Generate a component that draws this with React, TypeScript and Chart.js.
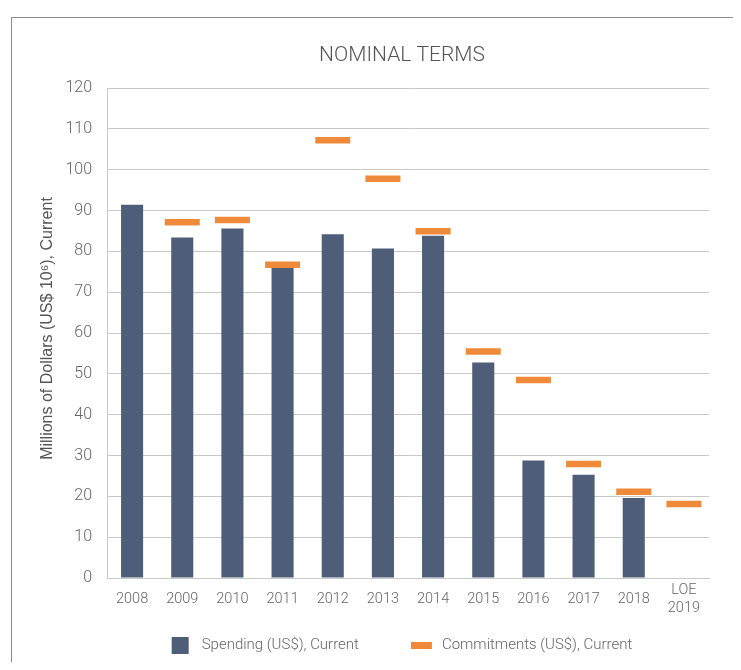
import React, { useEffect, useRef } from 'react';
import { Chart, registerables } from 'chart.js';

Chart.register(...registerables);

// Fiscal years on the category axis (last one is the level-of-effort estimate)
const categories: (string | string[])[] = [
  '2008', '2009', '2010', '2011', '2012', '2013', '2014',
  '2015', '2016', '2017', '2018', ['LOE', '2019'],
];

// Spending, millions of current US$
const spending: (number | null)[] = [
  91.4, 83.4, 85.6, 76.0, 84.2, 80.7, 83.8, 52.8, 28.8, 25.3, 19.6, null,
];

// Commitments, millions of current US$
const commitments: (number | null)[] = [
  null, 87.1, 87.7, 76.7, 107.2, 97.8, 84.9, 55.5, 48.5, 27.9, 21.1, 18.1,
];

const yMin = 0;
const yMax = 120;
const yStep = 10;

const titleText = 'NOMINAL TERMS';
const yTitle = 'Millions of Dollars (US$ 10\u2076), Current';
const spendingLabel = 'Spending (US$), Current';
const commitmentsLabel = 'Commitments (US$), Current';

const CANVAS_W = 725;
const CANVAS_H = 654;

const BAR_COLOR = '#4f5e78';
const DASH_COLOR = '#ef8a3b';
const TEXT_COLOR = '#666666';
const TITLE_COLOR = '#555555';
const GRID_COLOR = '#c9c9c9';
const LIGHT_FONT = 'Roboto, "Noto Sans", Arial, sans-serif';
const AXIS_TITLE_FONT = '"Liberation Sans", Arial, sans-serif';

// Legend row under the axis: a square for the bars, a short thick bar for the dashes
const legendItems = [
  { text: spendingLabel, color: BAR_COLOR, w: 17, h: 17, gap: 13 },
  { text: commitmentsLabel, color: DASH_COLOR, w: 21, h: 7, gap: 10 },
];

// Heading, rotated value-axis title and legend, placed around the plot area
const annotations = {
  id: 'annotations',
  afterDraw(chart: any) {
    const { ctx, chartArea } = chart;
    const midX = (chartArea.left + chartArea.right) / 2 - 6;
    ctx.save();

    // heading
    ctx.font = `300 21px ${LIGHT_FONT}`;
    ctx.fillStyle = TITLE_COLOR;
    ctx.textAlign = 'center';
    ctx.textBaseline = 'middle';
    ctx.fillText(titleText, midX, chartArea.top - 32.5);

    // value-axis title
    ctx.save();
    ctx.translate(chartArea.left - 59, (chartArea.top + chartArea.bottom) / 2 - 4.5);
    ctx.rotate(-Math.PI / 2);
    ctx.font = `16px ${AXIS_TITLE_FONT}`;
    ctx.fillStyle = TITLE_COLOR;
    ctx.textAlign = 'center';
    ctx.fillText(yTitle, 0, 0);
    ctx.restore();

    // legend
    ctx.font = `300 15px ${LIGHT_FONT}`;
    ctx.textAlign = 'left';
    const spacing = 52;
    const widths = legendItems.map((it) => it.w + it.gap + ctx.measureText(it.text).width);
    const total = widths.reduce((a, b) => a + b, 0) + spacing * (legendItems.length - 1);
    const cy = chart.height - 16.5;
    let x = midX - total / 2;
    legendItems.forEach((it, i) => {
      ctx.fillStyle = it.color;
      ctx.fillRect(x, cy - it.h / 2, it.w, it.h);
      ctx.fillStyle = TEXT_COLOR;
      ctx.fillText(it.text, x + it.w + it.gap, cy);
      x += widths[i] + spacing;
    });
    ctx.restore();
  },
};

export default function App() {
  const canvasRef = useRef<HTMLCanvasElement | null>(null);

  useEffect(() => {
    if (!canvasRef.current) return;

    const chart = new Chart(canvasRef.current, {
      type: 'bar',
      data: {
        labels: categories,
        datasets: [
          {
            type: 'bar',
            label: spendingLabel,
            data: spending,
            backgroundColor: BAR_COLOR,
            borderWidth: 0,
            barPercentage: 0.44,
            categoryPercentage: 1,
            order: 2,
          },
          {
            type: 'line',
            label: commitmentsLabel,
            data: commitments,
            showLine: false,
            pointStyle: 'line',
            pointRadius: 17.5,
            pointHoverRadius: 17.5,
            pointBorderWidth: 6.5,
            pointHoverBorderWidth: 6.5,
            borderColor: DASH_COLOR,
            backgroundColor: DASH_COLOR,
            order: 1,
          } as any,
        ],
      },
      options: {
        responsive: false,
        maintainAspectRatio: false,
        devicePixelRatio: 1,
        animation: false,
        layout: { padding: { left: 0, right: 1, top: 80, bottom: 36 } },
        plugins: {
          tooltip: { enabled: false },
          legend: { display: false },
          title: { display: false },
        },
        scales: {
          x: {
            grid: { display: false, drawTicks: false },
            border: { display: true, color: GRID_COLOR },
            ticks: {
              color: TEXT_COLOR,
              font: { family: LIGHT_FONT, size: 14.5, weight: '300' as any, lineHeight: 1.25 },
              padding: 12,
              crossAlign: 'center',
              maxRotation: 0,
              autoSkip: false,
            },
            afterFit: (scale: any) => {
              // labels sit inside the category slots, so no side overhang is needed
              scale.height = 48;
              scale.paddingLeft = 0;
              scale.paddingRight = 0;
            },
          },
          y: {
            min: yMin,
            max: yMax,
            grid: { color: GRID_COLOR, drawTicks: false },
            border: { display: true, color: GRID_COLOR },
            ticks: {
              stepSize: yStep,
              color: TEXT_COLOR,
              padding: 15,
              font: { family: LIGHT_FONT, size: 16, weight: '300' as any },
            },
            afterFit: (scale: any) => {
              scale.width = 99;
            },
          },
        },
      },
      plugins: [annotations],
    });

    return () => chart.destroy();
  }, []);

  return (
    <div style={{ position: 'relative', width: CANVAS_W, height: CANVAS_H }}>
      <div
        style={{
          position: 'absolute',
          left: 3,
          top: 9,
          right: -8,
          bottom: -8,
          borderTop: '1px solid #8c8c8c',
          borderLeft: '1px solid #8c8c8c',
          pointerEvents: 'none',
        }}
      />
      <canvas
        ref={canvasRef}
        width={CANVAS_W}
        height={CANVAS_H}
        style={{ display: 'block', width: CANVAS_W, height: CANVAS_H }}
      />
    </div>
  );
}
